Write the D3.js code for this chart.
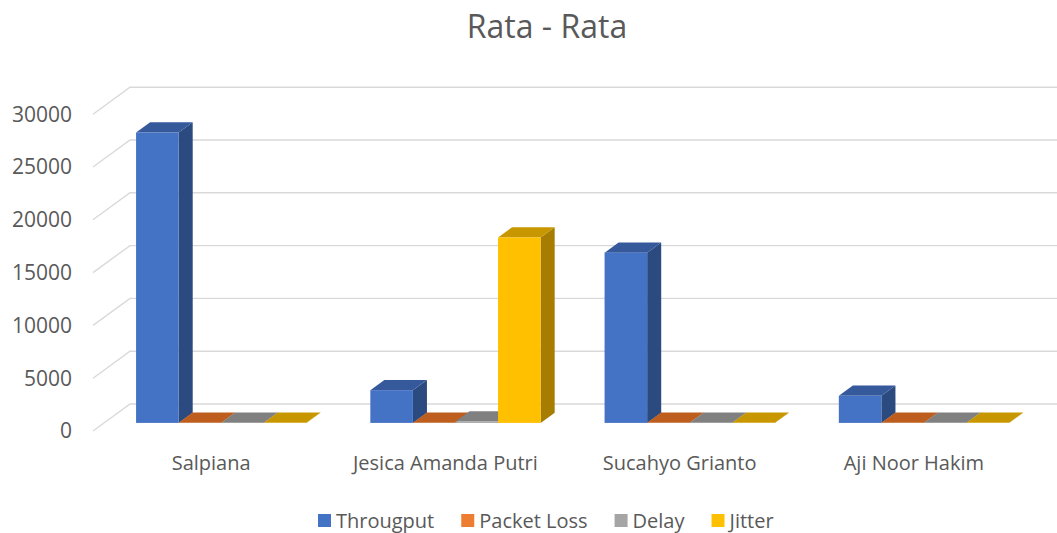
<!DOCTYPE html>
<html>
<head>
<meta charset="utf-8">
<script src="https://cdn.jsdelivr.net/npm/d3@7"></script>
<style>
	body { margin: 0; background: #fff; }
	svg { display: block; font-family: "Open Sans", sans-serif; }
</style>
</head>
<body>
<main></main>
<script>
const categories = ['Salpiana', 'Jesica Amanda Putri', 'Sucahyo Grianto', 'Aji Noor Hakim'];
const seriesNames = ['Througput', 'Packet Loss', 'Delay', 'Jitter'];
const througput = [27500, 3100, 16120, 2560];
const packetLoss = [5, 5, 5, 5];
const delay = [20, 130, 20, 20];
const jitter = [10, 17560, 10, 10];
const yTicks = [0, 5000, 10000, 15000, 20000, 25000, 30000];

const seriesValues = [througput, packetLoss, delay, jitter];
// front, top, side shades for each series
const colors = [
	{ front: '#4472C4', top: '#35599B', side: '#2B4A80' },
	{ front: '#ED7D31', top: '#BD5E1E', side: '#A3551F' },
	{ front: '#A5A5A5', top: '#808080', side: '#6F6F6F' },
	{ front: '#FFC000', top: '#C89700', side: '#A67D00' }
];

const width = 1057;
const height = 533;

const svg = d3.select('main')
	.append('svg')
	.attr('width', width)
	.attr('height', height);

// oblique depth: z = 0 front of floor, z = 1 back wall
const depthX = d3.scaleLinear().domain([0, 1]).range([0, 37]);
const depthY = d3.scaleLinear().domain([0, 1]).range([0, -27]);

const yScale = d3.scaleLinear()
	.domain([0, 30000])
	.range([431, 431 - 316.8]);

const xScale = d3.scaleBand()
	.domain(categories)
	.range([93, 1030])
	.paddingInner(0.273)
	.paddingOuter(0.1365);

const xSub = d3.scaleBand()
	.domain(seriesNames)
	.range([0, xScale.bandwidth()]);

const px = (x, z) => x + depthX(z);
const py = (v, z) => yScale(v) + depthY(z);

// gridlines: left side wall diagonal + back wall
const grid = svg.append('g')
	.attr('stroke', '#D9D9D9')
	.attr('stroke-width', 1.4)
	.attr('fill', 'none');

yTicks.forEach(t => {
	grid.append('path')
		.attr('d', `M${px(93, 0)},${py(t, 0)} L${px(93, 1)},${py(t, 1)} L${width},${py(t, 1)}`);
});

svg.append('g')
	.selectAll('text')
	.data(yTicks)
	.enter()
	.append('text')
	.attr('x', 72)
	.attr('y', (d) => yScale(d))
	.attr('dy', '0.35em')
	.attr('text-anchor', 'end')
	.attr('font-size', 21)
	.attr('fill', '#595959')
	.text((d) => d);

// 3D bars
const zf = 0.3;
const zb = 0.68;

const bars = [];
categories.forEach((c, ci) => {
	seriesNames.forEach((s, si) => {
		bars.push({ cat: c, series: s, si: si, value: seriesValues[si][ci] });
	});
});

const barGroups = svg.append('g')
	.selectAll('g')
	.data(bars)
	.enter()
	.append('g');

const x0 = (d) => xScale(d.cat) + xSub(d.series);
const w = xSub.bandwidth();

barGroups.append('path')
	.attr('fill', (d) => colors[d.si].side)
	.attr('d', (d) => {
		const xr = x0(d) + w;
		return `M${px(xr, zf)},${py(0, zf)} L${px(xr, zb)},${py(0, zb)} L${px(xr, zb)},${py(d.value, zb)} L${px(xr, zf)},${py(d.value, zf)} Z`;
	});

barGroups.append('path')
	.attr('fill', (d) => colors[d.si].top)
	.attr('d', (d) => {
		const xl = x0(d);
		const xr = xl + w;
		return `M${px(xl, zf)},${py(d.value, zf)} L${px(xr, zf)},${py(d.value, zf)} L${px(xr, zb)},${py(d.value, zb)} L${px(xl, zb)},${py(d.value, zb)} Z`;
	});

barGroups.append('rect')
	.attr('fill', (d) => colors[d.si].front)
	.attr('x', (d) => px(x0(d), zf))
	.attr('y', (d) => py(d.value, zf))
	.attr('width', w)
	.attr('height', (d) => py(0, zf) - py(d.value, zf));

// category labels
svg.append('g')
	.selectAll('text')
	.data(categories)
	.enter()
	.append('text')
	.attr('x', (d) => xScale(d) + xScale.bandwidth() / 2 + 1)
	.attr('y', 470)
	.attr('text-anchor', 'middle')
	.attr('font-size', 20)
	.attr('fill', '#595959')
	.text((d) => d);

// title
svg.append('text')
	.attr('x', 547)
	.attr('y', 38)
	.attr('text-anchor', 'middle')
	.attr('font-size', 32)
	.attr('fill', '#595959')
	.text('Rata - Rata');

// legend
const legend = svg.append('g');
let lx = 318;
seriesNames.forEach((s, i) => {
	legend.append('rect')
		.attr('x', lx)
		.attr('y', 514)
		.attr('width', 13)
		.attr('height', 13)
		.attr('fill', colors[i].front);
	const t = legend.append('text')
		.attr('x', lx + 18)
		.attr('y', 528)
		.attr('font-size', 20)
		.attr('fill', '#595959')
		.text(s);
	lx += 18 + t.node().getComputedTextLength() + 27;
});
</script>
</body>
</html>
